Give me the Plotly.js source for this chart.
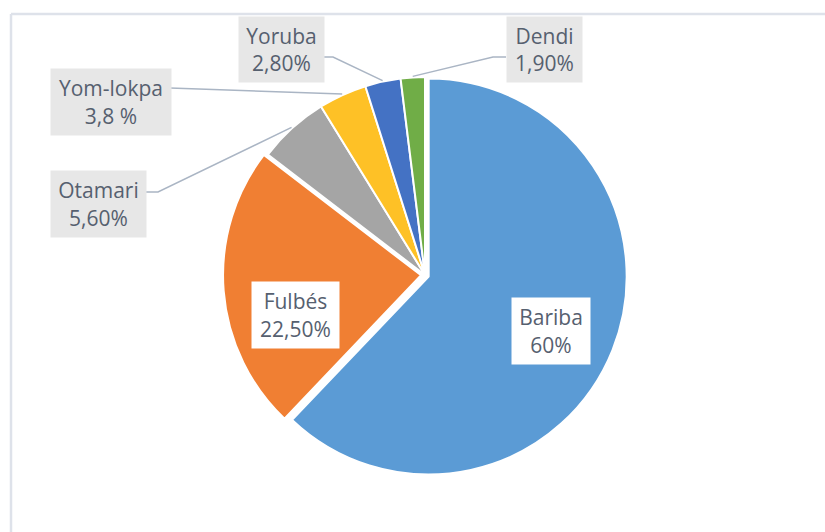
<!DOCTYPE html>
<html>
<head>
<meta charset="utf-8">
<script src="https://cdn.plot.ly/plotly-3.0.1.min.js"></script>
<style>
html,body{margin:0;padding:0;background:#fff;}
#chart{width:825px;height:532px;}
</style>
</head>
<body>
<div id="chart"></div>
<script>
// ---- data ----
const categories = ["Bariba", "Fulbés", "Otamari", "Yom-lokpa", "Yoruba", "Dendi"];
const values = [60, 22.5, 5.6, 3.8, 2.8, 1.9];
const valueLabels = ["60%", "22,50%", "5,60%", "3,8 %", "2,80%", "1,90%"];
const colors = ["#5B9BD5", "#F07F33", "#A5A5A5", "#FEC126", "#4472C4", "#70AD47"];
const pulls = [0.02, 0.02, 0, 0, 0, 0];

// ---- layout geometry ----
const W = 825, H = 532;
const CX = 425, CY = 275, R = 198;
const maxPull = Math.max(...pulls);
const half = R * (1 + maxPull);
const px = x => x / W;
const py = y => 1 - y / H;

// label boxes: [left, top, width, height, inside?, leader start points]
const boxes = {
  "Bariba":   {l: 511, t: 297, w: 78,  h: 66, inside: true},
  "Fulbés":   {l: 251, t: 281, w: 87,  h: 66, inside: true},
  "Otamari":  {l: 50,  t: 170, w: 95,  h: 66, lead: [[145,192],[158,192]]},
  "Yom-lokpa":{l: 50,  t: 68,  w: 120, h: 66, lead: [[170,88]]},
  "Yoruba":   {l: 238, t: 16,  w: 85,  h: 65, lead: [[323,57],[333,57]]},
  "Dendi":    {l: 506, t: 16,  w: 75,  h: 65, lead: [[506,57],[493,57]]}
};

const total = values.reduce((a, b) => a + b, 0);
const annotations = [];
const shapes = [];
let cum = 0;
categories.forEach((c, i) => {
  const a0 = cum / total * 2 * Math.PI;
  cum += values[i];
  const a1 = cum / total * 2 * Math.PI;
  const mid = (a0 + a1) / 2;
  const b = boxes[c];
  annotations.push({
    xref: "paper", yref: "paper",
    x: px(b.l), y: py(b.t), xanchor: "left", yanchor: "top",
    width: b.w, height: b.h, borderpad: 0,
    align: "center", valign: "middle",
    showarrow: false,
    bgcolor: b.inside ? "#FFFFFF" : "#E7E7E7",
    text: c + "<br>" + valueLabels[i],
    font: {family: "Open Sans, sans-serif", size: 21, color: "#56606F"}
  });
  if (b.lead) {
    const rr = R + 1;
    const ex = CX + rr * Math.sin(mid);
    const ey = CY - rr * Math.cos(mid);
    const pts = b.lead.concat([[ex, ey]]);
    const path = pts.map((p, k) => (k ? "L" : "M") + px(p[0]) + "," + py(p[1])).join(" ");
    shapes.push({type: "path", xref: "paper", yref: "paper", path: path,
      line: {color: "#AAB5C4", width: 1.5}});
  }
});

// chart frame
shapes.push({type: "line", xref: "paper", yref: "paper", x0: px(11), x1: px(11), y0: py(14), y1: py(540),
  line: {color: "#DEE2EA", width: 2.5}});
shapes.push({type: "line", xref: "paper", yref: "paper", x0: px(11), x1: px(830), y0: py(14), y1: py(14),
  line: {color: "#DEE2EA", width: 2.5}});

const trace = {
  type: "pie",
  labels: categories,
  values: values,
  sort: false,
  direction: "clockwise",
  rotation: 0,
  pull: pulls,
  marker: {colors: colors, line: {color: "#FFFFFF", width: 2}},
  textinfo: "none",
  hoverinfo: "label+value",
  showlegend: false,
  domain: {
    x: [(CX - half) / W, (CX + half) / W],
    y: [1 - (CY + half) / H, 1 - (CY - half) / H]
  }
};

const layout = {
  width: W, height: H,
  margin: {l: 0, r: 0, t: 0, b: 0},
  paper_bgcolor: "#FFFFFF",
  showlegend: false,
  annotations: annotations,
  shapes: shapes
};

Plotly.newPlot("chart", [trace], layout, {displayModeBar: false, staticPlot: true});
</script>
</body>
</html>
